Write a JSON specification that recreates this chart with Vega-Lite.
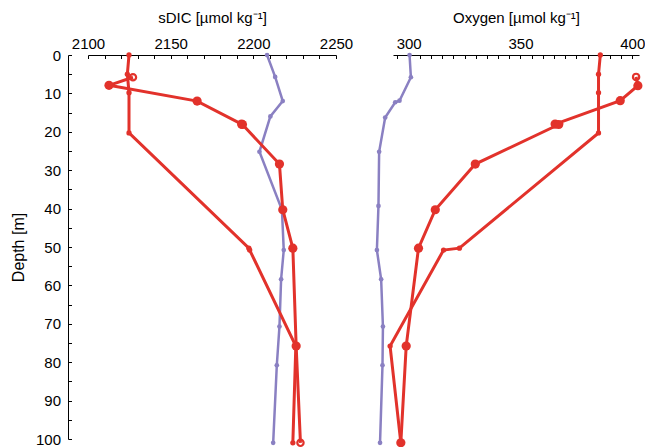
{
  "$schema": "https://vega.github.io/schema/vega-lite/v6.json",
  "padding": {"left": 10, "top": 10, "right": 0, "bottom": 0},
  "bounds": "flush",
  "spacing": 57,
  "config": {
    "view": {"stroke": null},
    "font": "Liberation Sans",
    "axis": {
      "grid": false,
      "domainColor": "#000000",
      "tickColor": "#000000",
      "labelColor": "#000000",
      "titleColor": "#000000",
      "labelFont": "Liberation Sans",
      "titleFont": "Liberation Sans",
      "labelFontSize": 15,
      "titleFontSize": 15,
      "titleFontWeight": "normal",
      "labelFlush": false,
      "domainWidth": 1,
      "tickWidth": 1
    }
  },
  "datasets": {
    "dic": [
      {"series": "ref", "seq": 1, "depth": 0, "value": 2208.3, "marker": "small"},
      {"series": "ref", "seq": 2, "depth": 5.7, "value": 2213.2, "marker": "small"},
      {"series": "ref", "seq": 3, "depth": 12, "value": 2217.8, "marker": "small"},
      {"series": "ref", "seq": 4, "depth": 16, "value": 2210.3, "marker": "small"},
      {"series": "ref", "seq": 5, "depth": 25.2, "value": 2203.7, "marker": "small"},
      {"series": "ref", "seq": 6, "depth": 40.3, "value": 2217.3, "marker": "small"},
      {"series": "ref", "seq": 7, "depth": 50.8, "value": 2218.4, "marker": "small"},
      {"series": "ref", "seq": 8, "depth": 58.4, "value": 2216.8, "marker": "small"},
      {"series": "ref", "seq": 9, "depth": 70.7, "value": 2215.8, "marker": "small"},
      {"series": "ref", "seq": 10, "depth": 80.8, "value": 2214.2, "marker": "small"},
      {"series": "ref", "seq": 11, "depth": 101, "value": 2212.0, "marker": "small"},
      {"series": "A", "seq": 1, "depth": 0, "value": 2124.8, "marker": "small"},
      {"series": "A", "seq": 2, "depth": 5, "value": 2123.8, "marker": "small"},
      {"series": "A", "seq": 3, "depth": 9.8, "value": 2124.8, "marker": "small"},
      {"series": "A", "seq": 4, "depth": 20.3, "value": 2124.8, "marker": "small"},
      {"series": "A", "seq": 5, "depth": 50.3, "value": 2197.3, "marker": "small"},
      {"series": "A", "seq": 6, "depth": 50.8, "value": 2197.8, "marker": "small"},
      {"series": "A", "seq": 7, "depth": 75.8, "value": 2225.7, "marker": "small"},
      {"series": "A", "seq": 8, "depth": 101, "value": 2223.9, "marker": "small"},
      {"series": "B", "seq": 1, "depth": 5.8, "value": 2127.2, "marker": "open"},
      {"series": "B", "seq": 2, "depth": 7.9, "value": 2112.7, "marker": "big"},
      {"series": "B", "seq": 3, "depth": 12, "value": 2166.0, "marker": "big"},
      {"series": "B", "seq": 4, "depth": 18, "value": 2192.9, "marker": "big"},
      {"series": "B", "seq": 5, "depth": 18.1, "value": 2193.4, "marker": "big"},
      {"series": "B", "seq": 6, "depth": 28.4, "value": 2215.8, "marker": "big"},
      {"series": "B", "seq": 7, "depth": 40.3, "value": 2217.8, "marker": "big"},
      {"series": "B", "seq": 8, "depth": 50.3, "value": 2223.9, "marker": "big"},
      {"series": "B", "seq": 9, "depth": 75.8, "value": 2225.9, "marker": "big"},
      {"series": "B", "seq": 10, "depth": 101, "value": 2228.5, "marker": "open"}
    ],
    "oxy": [
      {"series": "ref", "seq": 1, "depth": 0, "value": 300.4, "marker": "small"},
      {"series": "ref", "seq": 2, "depth": 5.8, "value": 301.0, "marker": "small"},
      {"series": "ref", "seq": 3, "depth": 11.9, "value": 295.9, "marker": "small"},
      {"series": "ref", "seq": 4, "depth": 12.3, "value": 294.0, "marker": "small"},
      {"series": "ref", "seq": 5, "depth": 16.3, "value": 289.5, "marker": "small"},
      {"series": "ref", "seq": 6, "depth": 25.2, "value": 286.8, "marker": "small"},
      {"series": "ref", "seq": 7, "depth": 39.3, "value": 286.5, "marker": "small"},
      {"series": "ref", "seq": 8, "depth": 50.8, "value": 285.8, "marker": "small"},
      {"series": "ref", "seq": 9, "depth": 58.4, "value": 287.7, "marker": "small"},
      {"series": "ref", "seq": 10, "depth": 70.7, "value": 288.5, "marker": "small"},
      {"series": "ref", "seq": 11, "depth": 80.8, "value": 288.3, "marker": "small"},
      {"series": "ref", "seq": 12, "depth": 101, "value": 287.2, "marker": "small"},
      {"series": "A", "seq": 1, "depth": 0, "value": 385.7, "marker": "small"},
      {"series": "A", "seq": 2, "depth": 5, "value": 384.9, "marker": "small"},
      {"series": "A", "seq": 3, "depth": 9.8, "value": 384.9, "marker": "small"},
      {"series": "A", "seq": 4, "depth": 20.3, "value": 384.9, "marker": "small"},
      {"series": "A", "seq": 5, "depth": 50.3, "value": 322.7, "marker": "small"},
      {"series": "A", "seq": 6, "depth": 50.8, "value": 315.6, "marker": "small"},
      {"series": "A", "seq": 7, "depth": 75.8, "value": 291.7, "marker": "small"},
      {"series": "A", "seq": 8, "depth": 101, "value": 296.5, "marker": "small"},
      {"series": "B", "seq": 1, "depth": 5.7, "value": 401.7, "marker": "open"},
      {"series": "B", "seq": 2, "depth": 8, "value": 402.5, "marker": "big"},
      {"series": "B", "seq": 3, "depth": 11.9, "value": 394.6, "marker": "big"},
      {"series": "B", "seq": 4, "depth": 18, "value": 365.5, "marker": "big"},
      {"series": "B", "seq": 5, "depth": 18.1, "value": 367.1, "marker": "big"},
      {"series": "B", "seq": 6, "depth": 28.4, "value": 329.8, "marker": "big"},
      {"series": "B", "seq": 7, "depth": 40.3, "value": 311.9, "marker": "big"},
      {"series": "B", "seq": 8, "depth": 50.3, "value": 304.4, "marker": "big"},
      {"series": "B", "seq": 9, "depth": 75.8, "value": 298.9, "marker": "big"},
      {"series": "B", "seq": 10, "depth": 101, "value": 296.5, "marker": "big"}
    ]
  },
  "hconcat": [
    {
      "width": 248,
      "height": 384,
      "data": {"name": "dic"},
      "encoding": {
        "x": {"field": "value", "type": "quantitative", "scale": {"domain": [2100, 2250], "nice": false, "zero": false},
          "axis": {"orient": "top", "format": "d", "labelOverlap": false,
            "values": [2100, 2110, 2120, 2130, 2140, 2150, 2160, 2170, 2180, 2190, 2200, 2210, 2220, 2230, 2240, 2250],
            "labelExpr": "datum.value % 50 === 0 ? datum.label : ''",
            "tickSize": -3.5, "labelPadding": 7.5, "title": "sDIC [µmol kg⁻¹]", "titlePadding": 11}},
        "y": {"field": "depth", "type": "quantitative", "scale": {"domain": [0, 100], "nice": false, "reverse": true},
          "axis": {"orient": "left", "offset": 20, "format": "d", "labelOverlap": false, "domain": true, "ticks": true, "domainColor": "#000000", "tickColor": "#000000",
            "values": [0, 5, 10, 15, 20, 25, 30, 35, 40, 45, 50, 55, 60, 65, 70, 75, 80, 85, 90, 95, 100],
            "labelExpr": "datum.value % 10 === 0 ? datum.label : ''",
            "tickSize": -3.5, "labelPadding": 11, "title": "Depth [m]", "titleFontSize": 16, "titlePadding": 9}}
      },
      "layer": [
        {
          "transform": [{"filter": "datum.series === 'ref'"}],
          "mark": {"type": "line", "color": "#8a80c2", "strokeWidth": 2.5},
          "encoding": {"order": {"field": "seq"}}
        },
        {
          "transform": [{"filter": "datum.series === 'ref'"}],
          "mark": {"type": "circle", "color": "#8a80c2", "opacity": 1, "size": 22}
        },
        {
          "transform": [{"filter": "datum.series !== 'ref'"}],
          "mark": {"type": "line", "color": "#e2322b", "strokeWidth": 3},
          "encoding": {"detail": {"field": "series"}, "order": {"field": "seq"}}
        },
        {
          "transform": [{"filter": "datum.series !== 'ref' && datum.marker === 'small'"}],
          "mark": {"type": "circle", "color": "#e2322b", "opacity": 1, "size": 28}
        },
        {
          "transform": [{"filter": "datum.marker === 'big'"}],
          "mark": {"type": "circle", "color": "#e2322b", "opacity": 1, "size": 85}
        },
        {
          "transform": [{"filter": "datum.marker === 'open'"}],
          "mark": {"type": "point", "shape": "circle", "color": "#e2322b", "filled": false, "opacity": 1, "strokeWidth": 2.2, "size": 40}
        }
      ]
    },
    {
      "width": 246,
      "height": 384,
      "data": {"name": "oxy"},
      "encoding": {
        "x": {"field": "value", "type": "quantitative", "scale": {"domain": [293, 403], "nice": false, "zero": false},
          "axis": {"orient": "top", "format": "d", "labelOverlap": false,
            "values": [295, 300, 305, 310, 315, 320, 325, 330, 335, 340, 345, 350, 355, 360, 365, 370, 375, 380, 385, 390, 395, 400],
            "labelExpr": "datum.value % 50 === 0 ? datum.label : ''",
            "tickSize": -3.5, "labelPadding": 7.5, "title": "Oxygen [µmol kg⁻¹]", "titlePadding": 11}},
        "y": {"field": "depth", "type": "quantitative", "scale": {"domain": [0, 100], "nice": false, "reverse": true}, "axis": null}
      },
      "layer": [
        {
          "transform": [{"filter": "datum.series === 'ref'"}],
          "mark": {"type": "line", "color": "#8a80c2", "strokeWidth": 2.5},
          "encoding": {"order": {"field": "seq"}}
        },
        {
          "transform": [{"filter": "datum.series === 'ref'"}],
          "mark": {"type": "circle", "color": "#8a80c2", "opacity": 1, "size": 22}
        },
        {
          "transform": [{"filter": "datum.series !== 'ref'"}],
          "mark": {"type": "line", "color": "#e2322b", "strokeWidth": 3},
          "encoding": {"detail": {"field": "series"}, "order": {"field": "seq"}}
        },
        {
          "transform": [{"filter": "datum.series !== 'ref' && datum.marker === 'small'"}],
          "mark": {"type": "circle", "color": "#e2322b", "opacity": 1, "size": 28}
        },
        {
          "transform": [{"filter": "datum.marker === 'big'"}],
          "mark": {"type": "circle", "color": "#e2322b", "opacity": 1, "size": 85}
        },
        {
          "transform": [{"filter": "datum.marker === 'open'"}],
          "mark": {"type": "point", "shape": "circle", "color": "#e2322b", "filled": false, "opacity": 1, "strokeWidth": 2.2, "size": 40}
        }
      ]
    }
  ]
}
